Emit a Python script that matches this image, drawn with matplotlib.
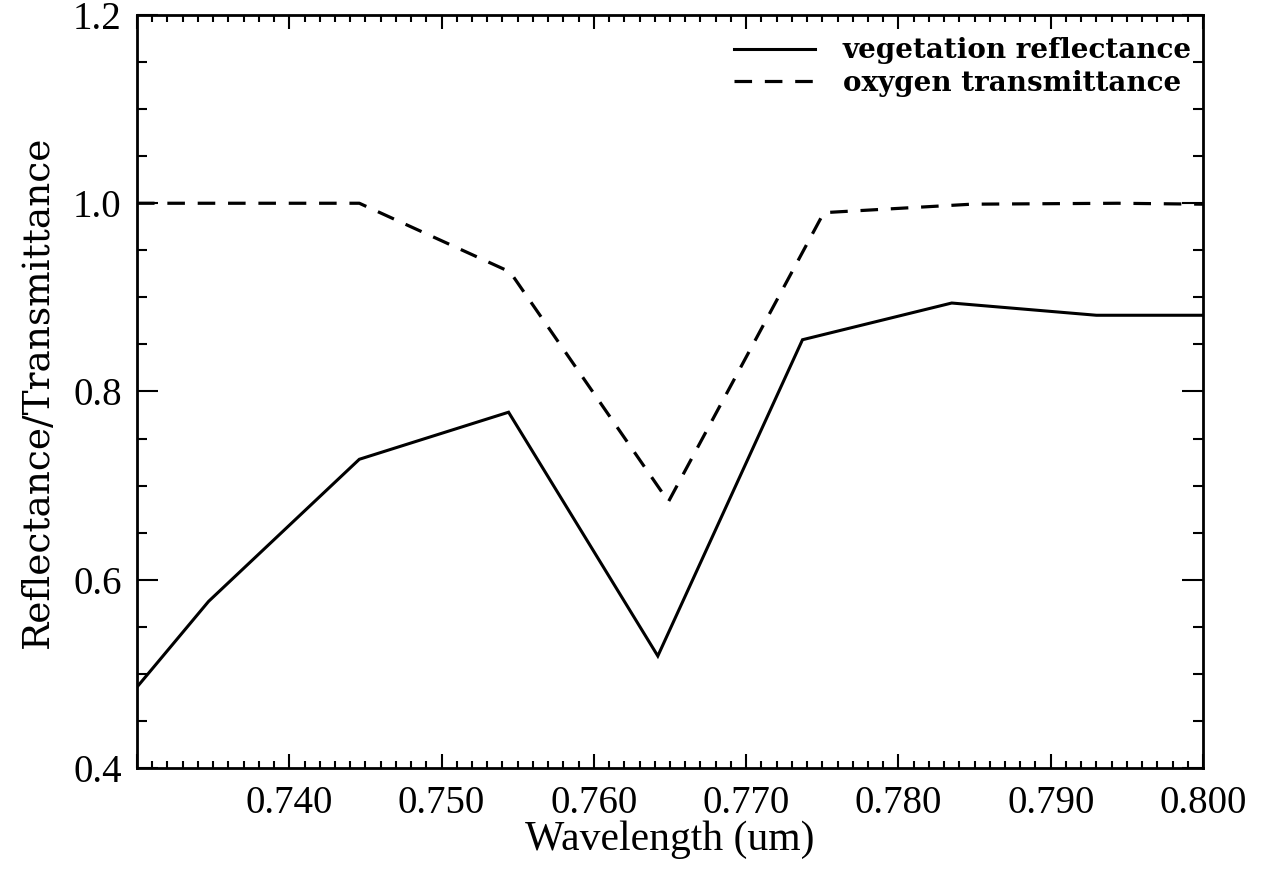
import matplotlib
matplotlib.use("Agg")
import matplotlib.pyplot as plt
from matplotlib.ticker import MultipleLocator, FormatStrFormatter

# Data
veg_wl = [0.7300, 0.7347, 0.7446, 0.7544, 0.7642, 0.7737, 0.7835, 0.7930, 0.8000]
veg_refl = [0.486, 0.577, 0.728, 0.778, 0.519, 0.855, 0.894, 0.881, 0.881]

oxy_wl = [0.7300, 0.7347, 0.7446, 0.7545, 0.7649, 0.7751, 0.7848, 0.7944, 0.8000]
oxy_trans = [1.000, 1.000, 1.000, 0.927, 0.683, 0.990, 0.999, 1.000, 0.999]

labels = ["vegetation reflectance", "oxygen transmittance"]
x_label = "Wavelength (um)"
y_label = "Reflectance/Transmittance"

fig = plt.figure(figsize=(12.68, 8.8), dpi=100)
ax = fig.add_axes([137/1268, 1-768/880, (1203-137)/1268, (768-15)/880])

ax.plot(veg_wl, veg_refl, color="black", lw=2.2, label=labels[0], solid_joinstyle="miter")
ax.plot(oxy_wl, oxy_trans, color="black", lw=2.3, dashes=(5.5, 4.0), label=labels[1])

ax.set_xlim(0.730, 0.800)
ax.set_ylim(0.4, 1.2)
ax.xaxis.set_major_locator(MultipleLocator(0.01))
ax.xaxis.set_minor_locator(MultipleLocator(0.001))
ax.yaxis.set_major_locator(MultipleLocator(0.2))
ax.yaxis.set_minor_locator(MultipleLocator(0.05))
ax.xaxis.set_major_formatter(FormatStrFormatter("%.3f"))
ax.yaxis.set_major_formatter(FormatStrFormatter("%.1f"))

font = "Liberation Serif"
ax.tick_params(axis="both", which="both", direction="in", top=True, right=True, width=1.5, colors="black")
ax.tick_params(axis="x", which="major", length=10, pad=12)
ax.tick_params(axis="x", which="minor", length=5)
ax.tick_params(axis="y", which="major", length=15, pad=11)
ax.tick_params(axis="y", which="minor", length=7.5)
xt = ax.get_xticks()
ax.set_xticks(xt)
ax.set_xticklabels(["" if abs(v - 0.730) < 1e-6 else f"{v:.3f}" for v in xt], fontfamily=font, fontsize=28)
ax.set_xlim(0.730, 0.800)
for lab in ax.get_yticklabels():
    lab.set_fontfamily(font)
    lab.set_fontsize(28)

for sp in ax.spines.values():
    sp.set_linewidth(2)

ax.set_xlabel(x_label, fontfamily=font, fontsize=30, labelpad=-1)
ax.set_ylabel(y_label, fontfamily="DejaVu Serif", fontsize=27, labelpad=12)

leg = ax.legend(loc="upper right", bbox_to_anchor=(1.0, 0.985), frameon=False,
                prop={"family": "DejaVu Serif", "weight": "bold", "size": 20},
                handlelength=2.9, handletextpad=1.0, labelspacing=0.2, borderaxespad=0.0)

fig.savefig("out.png", dpi=100)
